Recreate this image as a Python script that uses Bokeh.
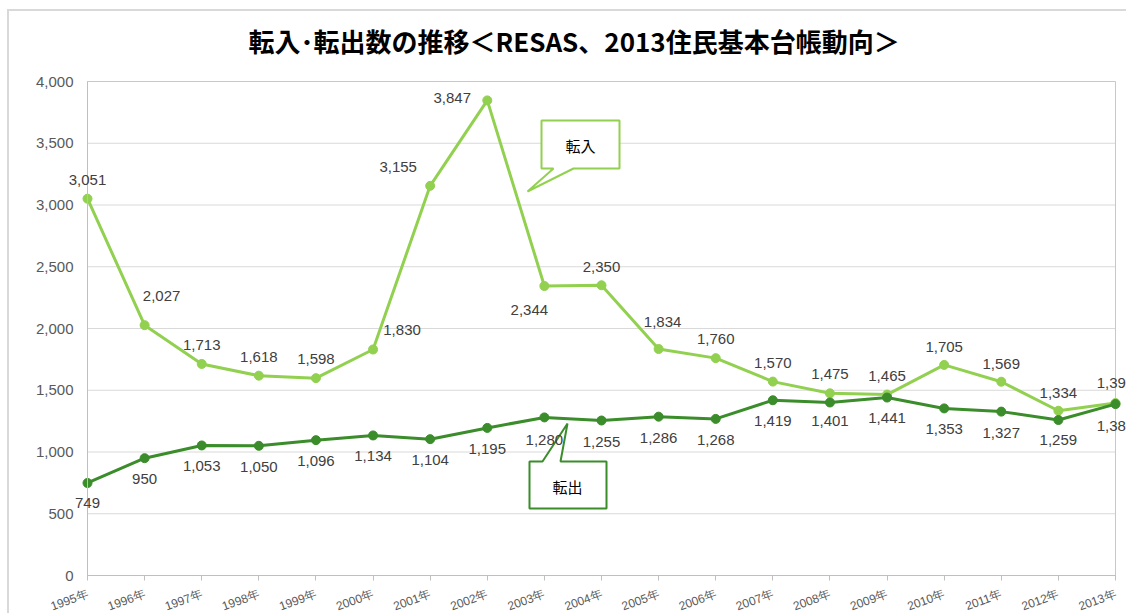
from bokeh.plotting import figure
from bokeh.models import (Range1d, FixedTicker, NumeralTickFormatter,
                          ColumnDataSource, LabelSet, Label)
from bokeh.core.properties import value
from bokeh.embed import file_html
from bokeh.resources import INLINE

# ---------------- data ----------------
years = [1995, 1996, 1997, 1998, 1999, 2000, 2001, 2002, 2003, 2004,
         2005, 2006, 2007, 2008, 2009, 2010, 2011, 2012, 2013]
tick_labels = [f"{y}年" for y in years]
tennyu = [3051, 2027, 1713, 1618, 1598, 1830, 3155, 3847, 2344, 2350,
          1834, 1760, 1570, 1475, 1465, 1705, 1569, 1334, 1396]
tenshutsu = [749, 950, 1053, 1050, 1096, 1134, 1104, 1195, 1280, 1255,
             1286, 1268, 1419, 1401, 1441, 1353, 1327, 1259, 1388]
y_ticks = [0, 500, 1000, 1500, 2000, 2500, 3000, 3500, 4000]
title_text = "転入･転出数の推移＜RESAS、2013住民基本台帳動向＞"
series_names = ["転入", "転出"]

# ---------------- label offsets (pixels) ----------------
in_dx = [0, 17, 0, 0, 0, 29, -32, -35, -15, 0, 4, 0, 0, 0, 0, 0, 0, 0, 0]
in_dy = [19, 29, 19, 19, 19, 19, 19, 2, -24, 18, 27, 19, 19, 19, 19, 18, 18, 18, 20]
out_dx = [0] * 19
out_dy = [-20, -21, -21, -21, -21, -21, -21, -21, -23, -21,
          -21, -21, -21, -19, -20, -21, -21, -20, -22]

LIGHT = "#92D050"
DARK = "#3B8C2A"
GRID = "#d9d9d9"
AXIS = "#bfbfbf"

# plot-area geometry (pixels)
CANVAS_W, CANVAS_H = 1126, 613
FRAME_L, FRAME_T = 22, 65
AREA_L, AREA_R, AREA_T, AREA_B = 87, 1115, 81, 575
X_MAX, Y_MAX = len(years) - 1, y_ticks[-1]
PX_PER_X = (AREA_R - AREA_L) / X_MAX
PX_PER_Y = (AREA_B - AREA_T) / Y_MAX
X_START = -(AREA_L - FRAME_L) / PX_PER_X
X_END = X_MAX + (CANVAS_W - AREA_R) / PX_PER_X
Y_START = -(CANVAS_H - AREA_B) / PX_PER_Y
Y_END = Y_MAX + (AREA_T - FRAME_T) / PX_PER_Y

x = list(range(len(years)))
src_in = ColumnDataSource(dict(x=x, y=tennyu, t=[f"{v:,}" for v in tennyu], dx=in_dx, dy=in_dy))
src_out = ColumnDataSource(dict(x=x, y=tenshutsu, t=[f"{v:,}" for v in tenshutsu], dx=out_dx, dy=out_dy))

p = figure(width=CANVAS_W, height=CANVAS_H, x_range=Range1d(X_START, X_END),
           y_range=Range1d(Y_START, Y_END),
           output_backend="svg", toolbar_location=None,
           min_border_left=FRAME_L, min_border_right=0, min_border_top=FRAME_T,
           min_border_bottom=0)
p.border_fill_alpha = 0
p.background_fill_alpha = 0
p.styles = {"box-shadow": "inset 7px 9px 0 0 #ffffff, inset 9px 11px 0 0 #d9d9d9"}
p.outline_line_color = None

# title
p.title.text = title_text
p.title.align = "left"
p.title.offset = 248 - FRAME_L
p.title.text_font = "Noto Sans CJK JP"
p.title.text_font_style = "bold"
p.title.text_font_size = "26px"
p.title.text_color = "#000000"
p.title.standoff = 13

# axes
p.xaxis.ticker = FixedTicker(ticks=x)
p.xaxis.fixed_location = 0
p.xaxis.bounds = (0, X_MAX)
p.xaxis.major_label_overrides = {i: lab for i, lab in enumerate(tick_labels)}
p.xaxis.major_label_orientation = 0.35
p.xaxis.major_label_text_font = "Liberation Sans"
p.xaxis.major_label_text_font_size = "12px"
p.xaxis.major_label_text_color = "#595959"
p.xaxis.axis_line_color = AXIS
p.xaxis.major_tick_line_color = AXIS
p.xaxis.major_tick_out = 5
p.xaxis.major_tick_in = 0
p.xaxis.minor_tick_line_color = None
p.xaxis.major_label_standoff = 13

p.yaxis.ticker = FixedTicker(ticks=y_ticks)
p.yaxis.fixed_location = 0
p.yaxis.bounds = (0, Y_MAX)
p.yaxis.formatter = NumeralTickFormatter(format="0,0")
p.yaxis.major_label_text_font = "Liberation Sans"
p.yaxis.major_label_text_font_size = "15px"
p.yaxis.major_label_text_color = "#595959"
p.yaxis.axis_line_color = AXIS
p.yaxis.major_tick_line_color = None
p.yaxis.minor_tick_line_color = None
p.yaxis.major_tick_out = 0
p.yaxis.major_tick_in = 0
p.yaxis.major_label_standoff = 14

p.xgrid.visible = False
p.ygrid.visible = False

# gridlines and plot-area box limited to the data area
p.segment(x0=[0] * len(y_ticks), x1=[X_MAX] * len(y_ticks), y0=y_ticks, y1=y_ticks,
          line_color=GRID, line_width=1)
p.quad(left=[0], right=[X_MAX], bottom=[0], top=[Y_MAX], fill_color=None,
       line_color="#c8c8c8", line_width=1)

# lines
p.line("x", "y", source=src_in, line_color=LIGHT, line_width=3)
p.scatter("x", "y", source=src_in, size=9, fill_color=LIGHT, line_color=LIGHT)
p.line("x", "y", source=src_out, line_color=DARK, line_width=3)
p.scatter("x", "y", source=src_out, size=9, fill_color=DARK, line_color=DARK)

for src in (src_in, src_out):
    p.add_layout(LabelSet(x="x", y="y", text="t", source=src, x_offset="dx", y_offset="dy",
                          text_align="center", text_baseline="middle",
                          text_font=value("Liberation Sans"), text_font_size="15px",
                          text_color="#404040"))

# callouts (reference pixel layout -> data units)
def to_data(pts):
    xs = [(px - AREA_L) / PX_PER_X for px, _ in pts]
    ys = [(AREA_B - py) / PX_PER_Y for _, py in pts]
    return xs, ys

call_in = [(541, 120), (619, 120), (619, 168), (573, 168), (527, 191), (553, 168), (541, 168)]
call_out = [(529, 461), (542, 461), (567, 423), (560, 461), (606, 461), (606, 508), (529, 508)]
for pts, col, name, c in ((call_in, LIGHT, series_names[0], (580, 145)),
                          (call_out, DARK, series_names[1], (567, 486))):
    xs, ys = to_data(pts)
    p.patch(xs, ys, fill_color="white", line_color=col, line_width=2)
    cx, cy = to_data([c])
    p.add_layout(Label(x=cx[0], y=cy[0], text=name, text_align="center", text_baseline="middle",
                       text_font="Noto Sans CJK JP", text_font_size="15px", text_color="#000000"))

open("out.html", "w").write(file_html(p, INLINE))
